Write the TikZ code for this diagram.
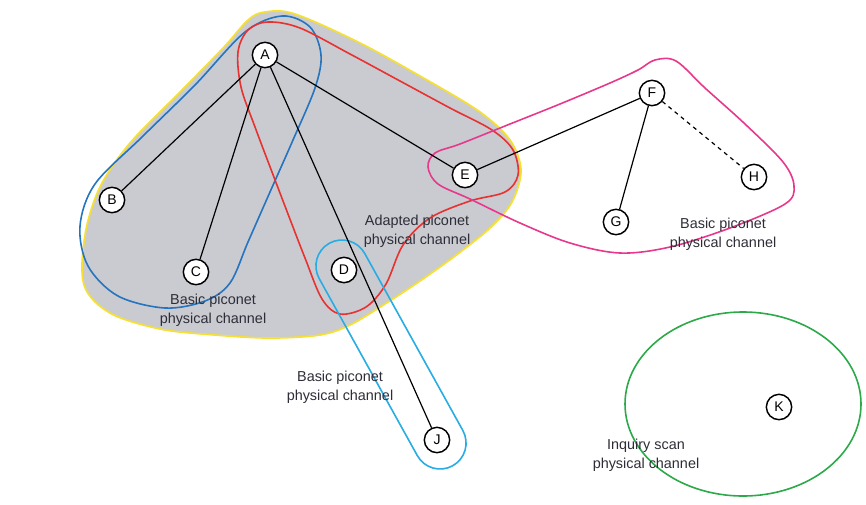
\documentclass[tikz,border=0pt]{standalone}
\usepackage{fontspec}
\setmainfont{Liberation Sans}
\definecolor{blobgrey}{RGB}{201,203,209}
\definecolor{blobyellow}{RGB}{246,224,52}
\definecolor{chblue}{RGB}{38,116,190}
\definecolor{chred}{RGB}{232,50,48}
\definecolor{chmagenta}{RGB}{232,56,140}
\definecolor{chcyan}{RGB}{40,172,228}
\definecolor{chgreen}{RGB}{44,170,74}
\definecolor{txtgrey}{RGB}{45,45,55}
\tikzset{
  dev/.style={circle, draw=black, fill=white, line width=1.1pt, minimum size=19pt, inner sep=0pt, font=\fontsize{10.5}{10.5}\selectfont},
  link/.style={draw=black, line width=0.9pt},
  chan/.style={line width=1.2pt},
  lbl/.style={align=center, text=txtgrey, font=\fontsize{10.8}{14}\selectfont}
}
\begin{document}
\begin{tikzpicture}[x=0.75pt, y=-0.75pt]
\useasboundingbox (0,0) rectangle (866,504);

% shaded area of the scatternet
\draw[fill=blobgrey, draw=blobyellow, line width=1.3pt]
  plot[smooth cycle, tension=0.55] coordinates {
   (265,12) (295,14) (360,43) (427,80) (480,112) (510,140) (521,170)
   (512,202) (490,228) (455,256) (420,281) (385,304) (350,325) (320,335)
   (270,338) (215,335) (160,329) (110,313) (84,285) (85,235) (100,187)
   (130,143) (180,92) (224,47) (248,20)};

% basic piconet around A, B, C
\draw[chan, chblue]
  plot[smooth cycle, tension=0.55] coordinates {
   (282,16) (310,27) (321,55) (315,88) (293,140) (270,192) (248,242) (230,283)
   (205,301) (165,308) (118,296) (88,266) (80,226) (95,184) (142,137)
   (195,85) (245,32)};

% adapted piconet around A, E, D
\draw[chan, chred]
  plot[smooth cycle, tension=0.55] coordinates {
   (268,22) (300,28) (350,54) (400,81) (450,108) (492,130) (513,150)
   (518,175) (505,192) (470,201) (430,218) (403,245) (386,284) (366,307)
   (340,314) (322,299) (305,258) (288,214) (272,172) (255,127) (241,87)
   (238,52) (248,30)};

% basic piconet around E, F, G, H
\draw[chan, chmagenta]
  plot[smooth cycle, tension=0.55] coordinates {
   (460,144) (510,124) (560,104) (610,83) (638,70) (655,60) (676,61)
   (705,88) (745,124) (783,162) (794,186) (785,204) (730,228) (670,247)
   (620,253) (570,243) (520,223) (470,199) (438,184) (428,167) (435,153)};

% basic piconet around D, J: a stadium along the D--J axis
\begin{scope}[shift={(391,354.5)}, rotate=-61]
  \draw[chan, chcyan, rounded corners=19.5pt] (-127.2,-26) rectangle (127.2,26);
\end{scope}

% inquiry scan channel
\draw[chan, chgreen] (743,404) ellipse [x radius=118, y radius=92];

% devices
\node[dev] (A) at (265,55) {A};
\node[dev] (B) at (112,200) {B};
\node[dev] (C) at (196,272) {C};
\node[dev] (D) at (344,270) {D};
\node[dev] (E) at (465,175) {E};
\node[dev] (F) at (652,93) {F};
\node[dev] (G) at (616,222) {G};
\node[dev] (H) at (754,177) {H};
\node[dev] (J) at (437,440) {J};
\node[dev] (K) at (779,407) {K};

% links
\draw[link] (A) -- (B);
\draw[link] (A) -- (C);
\draw[link] (A) -- (E);
\draw[link] (A) -- (J);
\draw[link] (E) -- (F);
\draw[link] (F) -- (G);
\draw[link, dashed] (F) -- (H);

% channel labels
\node[lbl] (lad) at (417,231) {Adapted piconet\\physical channel};
\node[lbl] (lbc) at (213,310) {Basic piconet\\physical channel};
\node[lbl] (lfg) at (723,234) {Basic piconet\\physical channel};
\node[lbl] (ldj) at (340,387) {Basic piconet\\physical channel};
\node[lbl] (lk) at (646,455) {Inquiry scan\\physical channel};
\end{tikzpicture}
\end{document}
